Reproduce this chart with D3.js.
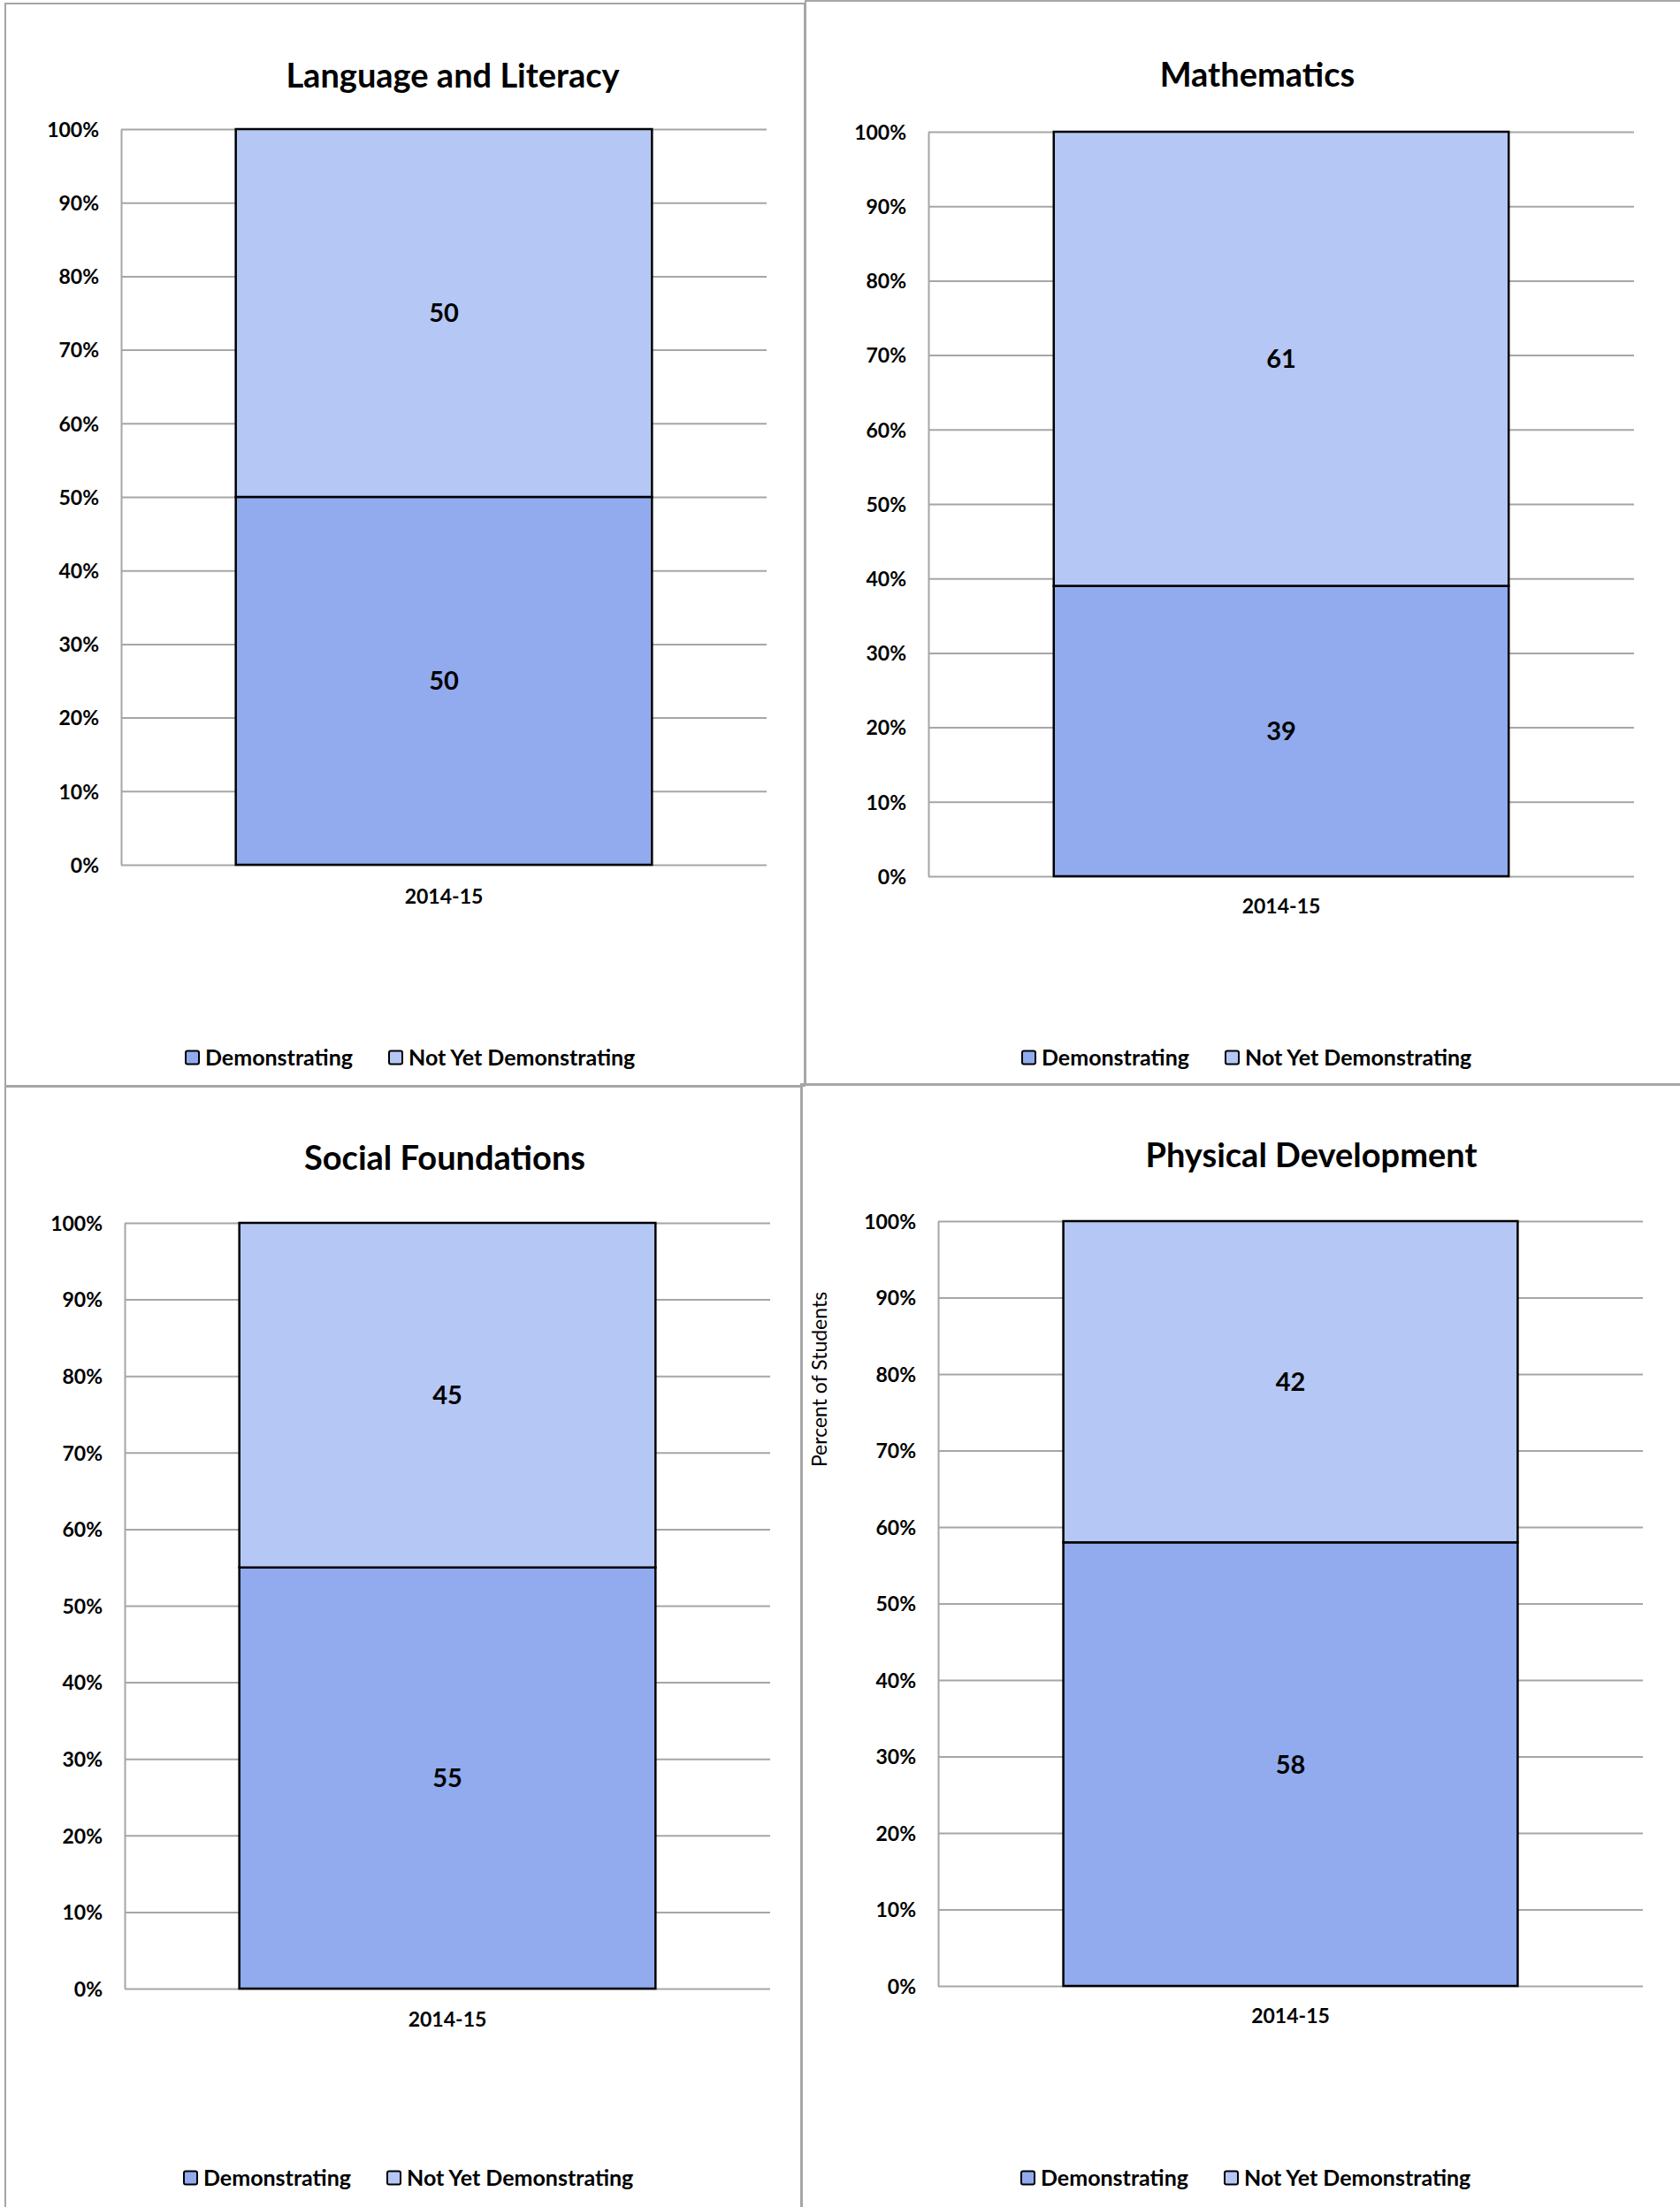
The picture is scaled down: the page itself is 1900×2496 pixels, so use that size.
<!DOCTYPE html>
<html>
<head>
<meta charset="utf-8">
<script src="https://cdn.jsdelivr.net/npm/d3@7"></script>
<style>
  html, body { margin: 0; padding: 0; background: #ffffff; }
  svg { display: block; }
  text { font-family: Lato, "Open Sans", sans-serif; fill: #000; }
</style>
</head>
<body>
<svg id="chart" width="1900" height="2496"></svg>
<script>
// ---------------- data ----------------
const panelTitles = ["Language and Literacy", "Mathematics", "Social Foundations", "Physical Development"];
const categories = ["2014-15"];
const seriesNames = ["Demonstrating", "Not Yet Demonstrating"];
const demonstrating = [50, 39, 55, 58];
const notYetDemonstrating = [50, 61, 45, 42];
const tickValues = [0, 10, 20, 30, 40, 50, 60, 70, 80, 90, 100];
const tickLabels = ["0%", "10%", "20%", "30%", "40%", "50%", "60%", "70%", "80%", "90%", "100%"];
const yAxisTitles = ["", "", "", "Percent of Students"];

// ---------------- layout (pixels) ----------------
const frames = [
  {x0: 6,   y0: 4,    x1: 910,  y1: 1228},
  {x0: 911, y0: 1,    x1: 1902, y1: 1227},
  {x0: 6,   y0: 1229, x1: 907,  y1: 2498},
  {x0: 906, y0: 1226, x1: 1902, y1: 2498}
];
const plots = [
  {left: 137,  right: 867,  top: 146,  bottom: 978,  titleX: 512,  titleY: 99,   catPad: 28, legendX: 209,  legendY: 1196},
  {left: 1050, right: 1848, top: 149,  bottom: 991,  titleX: 1422, titleY: 98,   catPad: 26, legendX: 1155, legendY: 1196},
  {left: 141,  right: 871,  top: 1383, bottom: 2249, titleX: 503,  titleY: 1323, catPad: 27, legendX: 207,  legendY: 2463},
  {left: 1061, right: 1858, top: 1381, bottom: 2246, titleX: 1483, titleY: 1320, catPad: 26, legendX: 1154, legendY: 2463}
];
const colors = ["#91abee", "#b5c7f4"];
const gridColor = "#a6a6a6";

const svg = d3.select("#chart");

// panel frames
svg.selectAll("rect.frame").data(frames).join("rect")
  .attr("class", "frame")
  .attr("x", d => d.x0).attr("y", d => d.y0)
  .attr("width", d => d.x1 - d.x0).attr("height", d => d.y1 - d.y0)
  .attr("fill", "none").attr("stroke", gridColor).attr("stroke-width", 2);

panelTitles.forEach((title, i) => {
  const p = plots[i];
  const g = svg.append("g");

  const y = d3.scaleLinear().domain([0, 100]).range([p.bottom, p.top]);
  const x = d3.scaleBand().domain(categories).range([p.left, p.right]).padding(0.216);

  // y axis with gridlines
  const yAxis = d3.axisLeft(y)
    .tickValues(tickValues)
    .tickFormat((d, k) => tickLabels[k])
    .tickSize(-(p.right - p.left))
    .tickSizeOuter(0)
    .tickPadding(25);
  const ya = g.append("g").attr("transform", `translate(${p.left},0)`).call(yAxis);
  ya.select(".domain").attr("stroke", gridColor).attr("stroke-width", 2);
  ya.selectAll(".tick line").attr("stroke", gridColor).attr("stroke-width", 2);
  ya.selectAll(".tick text")
    .attr("font-family", "Lato, sans-serif")
    .attr("font-weight", "bold")
    .attr("font-size", 23)
    .attr("dy", "0.36em")
    .attr("fill", "#000");

  // stacked bar segments
  const stack = [
    {name: seriesNames[0], v0: 0, v1: demonstrating[i], color: colors[0]},
    {name: seriesNames[1], v0: demonstrating[i], v1: demonstrating[i] + notYetDemonstrating[i], color: colors[1]}
  ];
  g.selectAll("rect.seg").data(stack).join("rect")
    .attr("class", "seg")
    .attr("x", x(categories[0]))
    .attr("width", x.bandwidth())
    .attr("y", d => y(d.v1))
    .attr("height", d => y(d.v0) - y(d.v1))
    .attr("fill", d => d.color)
    .attr("stroke", "#000")
    .attr("stroke-width", 2.5);

  // data labels
  g.selectAll("text.lbl").data(stack).join("text")
    .attr("class", "lbl")
    .attr("x", x(categories[0]) + x.bandwidth() / 2)
    .attr("y", d => y((d.v0 + d.v1) / 2))
    .attr("dy", "0.36em")
    .attr("text-anchor", "middle")
    .attr("font-weight", "bold")
    .attr("font-size", 29)
    .text(d => d.v1 - d.v0);

  // x axis (category label)
  const xAxis = d3.axisBottom(x).tickSize(0).tickPadding(p.catPad);
  const xa = g.append("g").attr("transform", `translate(0,${p.bottom})`).call(xAxis);
  xa.select(".domain").remove();
  xa.selectAll(".tick text")
    .attr("font-family", "Lato, sans-serif")
    .attr("font-weight", "bold")
    .attr("font-size", 23)
    .attr("fill", "#000");

  // title
  g.append("text")
    .attr("x", p.titleX).attr("y", p.titleY)
    .attr("text-anchor", "middle")
    .attr("font-weight", "bold")
    .attr("font-size", 38)
    .text(title);

  // y axis title
  if (yAxisTitles[i]) {
    g.append("text")
      .attr("transform", `translate(927,1560) rotate(-90)`)
      .attr("text-anchor", "middle")
      .attr("dy", "0.36em")
      .attr("font-size", 23)
      .text(yAxisTitles[i]);
  }

  // legend
  const lg = g.append("g").attr("transform", `translate(${p.legendX},${p.legendY})`);
  const items = lg.selectAll("g").data(seriesNames).join("g")
    .attr("transform", (d, k) => `translate(${k * 230},0)`);
  items.append("rect")
    .attr("x", 1).attr("y", -7.5)
    .attr("width", 15).attr("height", 15)
    .attr("rx", 2)
    .attr("fill", (d, k) => colors[k])
    .attr("stroke", "#000").attr("stroke-width", 2);
  items.append("text")
    .attr("x", 23).attr("y", 0)
    .attr("dy", "0.36em")
    .attr("font-weight", "bold")
    .attr("font-size", 25)
    .text(d => d);
});
</script>
</body>
</html>
